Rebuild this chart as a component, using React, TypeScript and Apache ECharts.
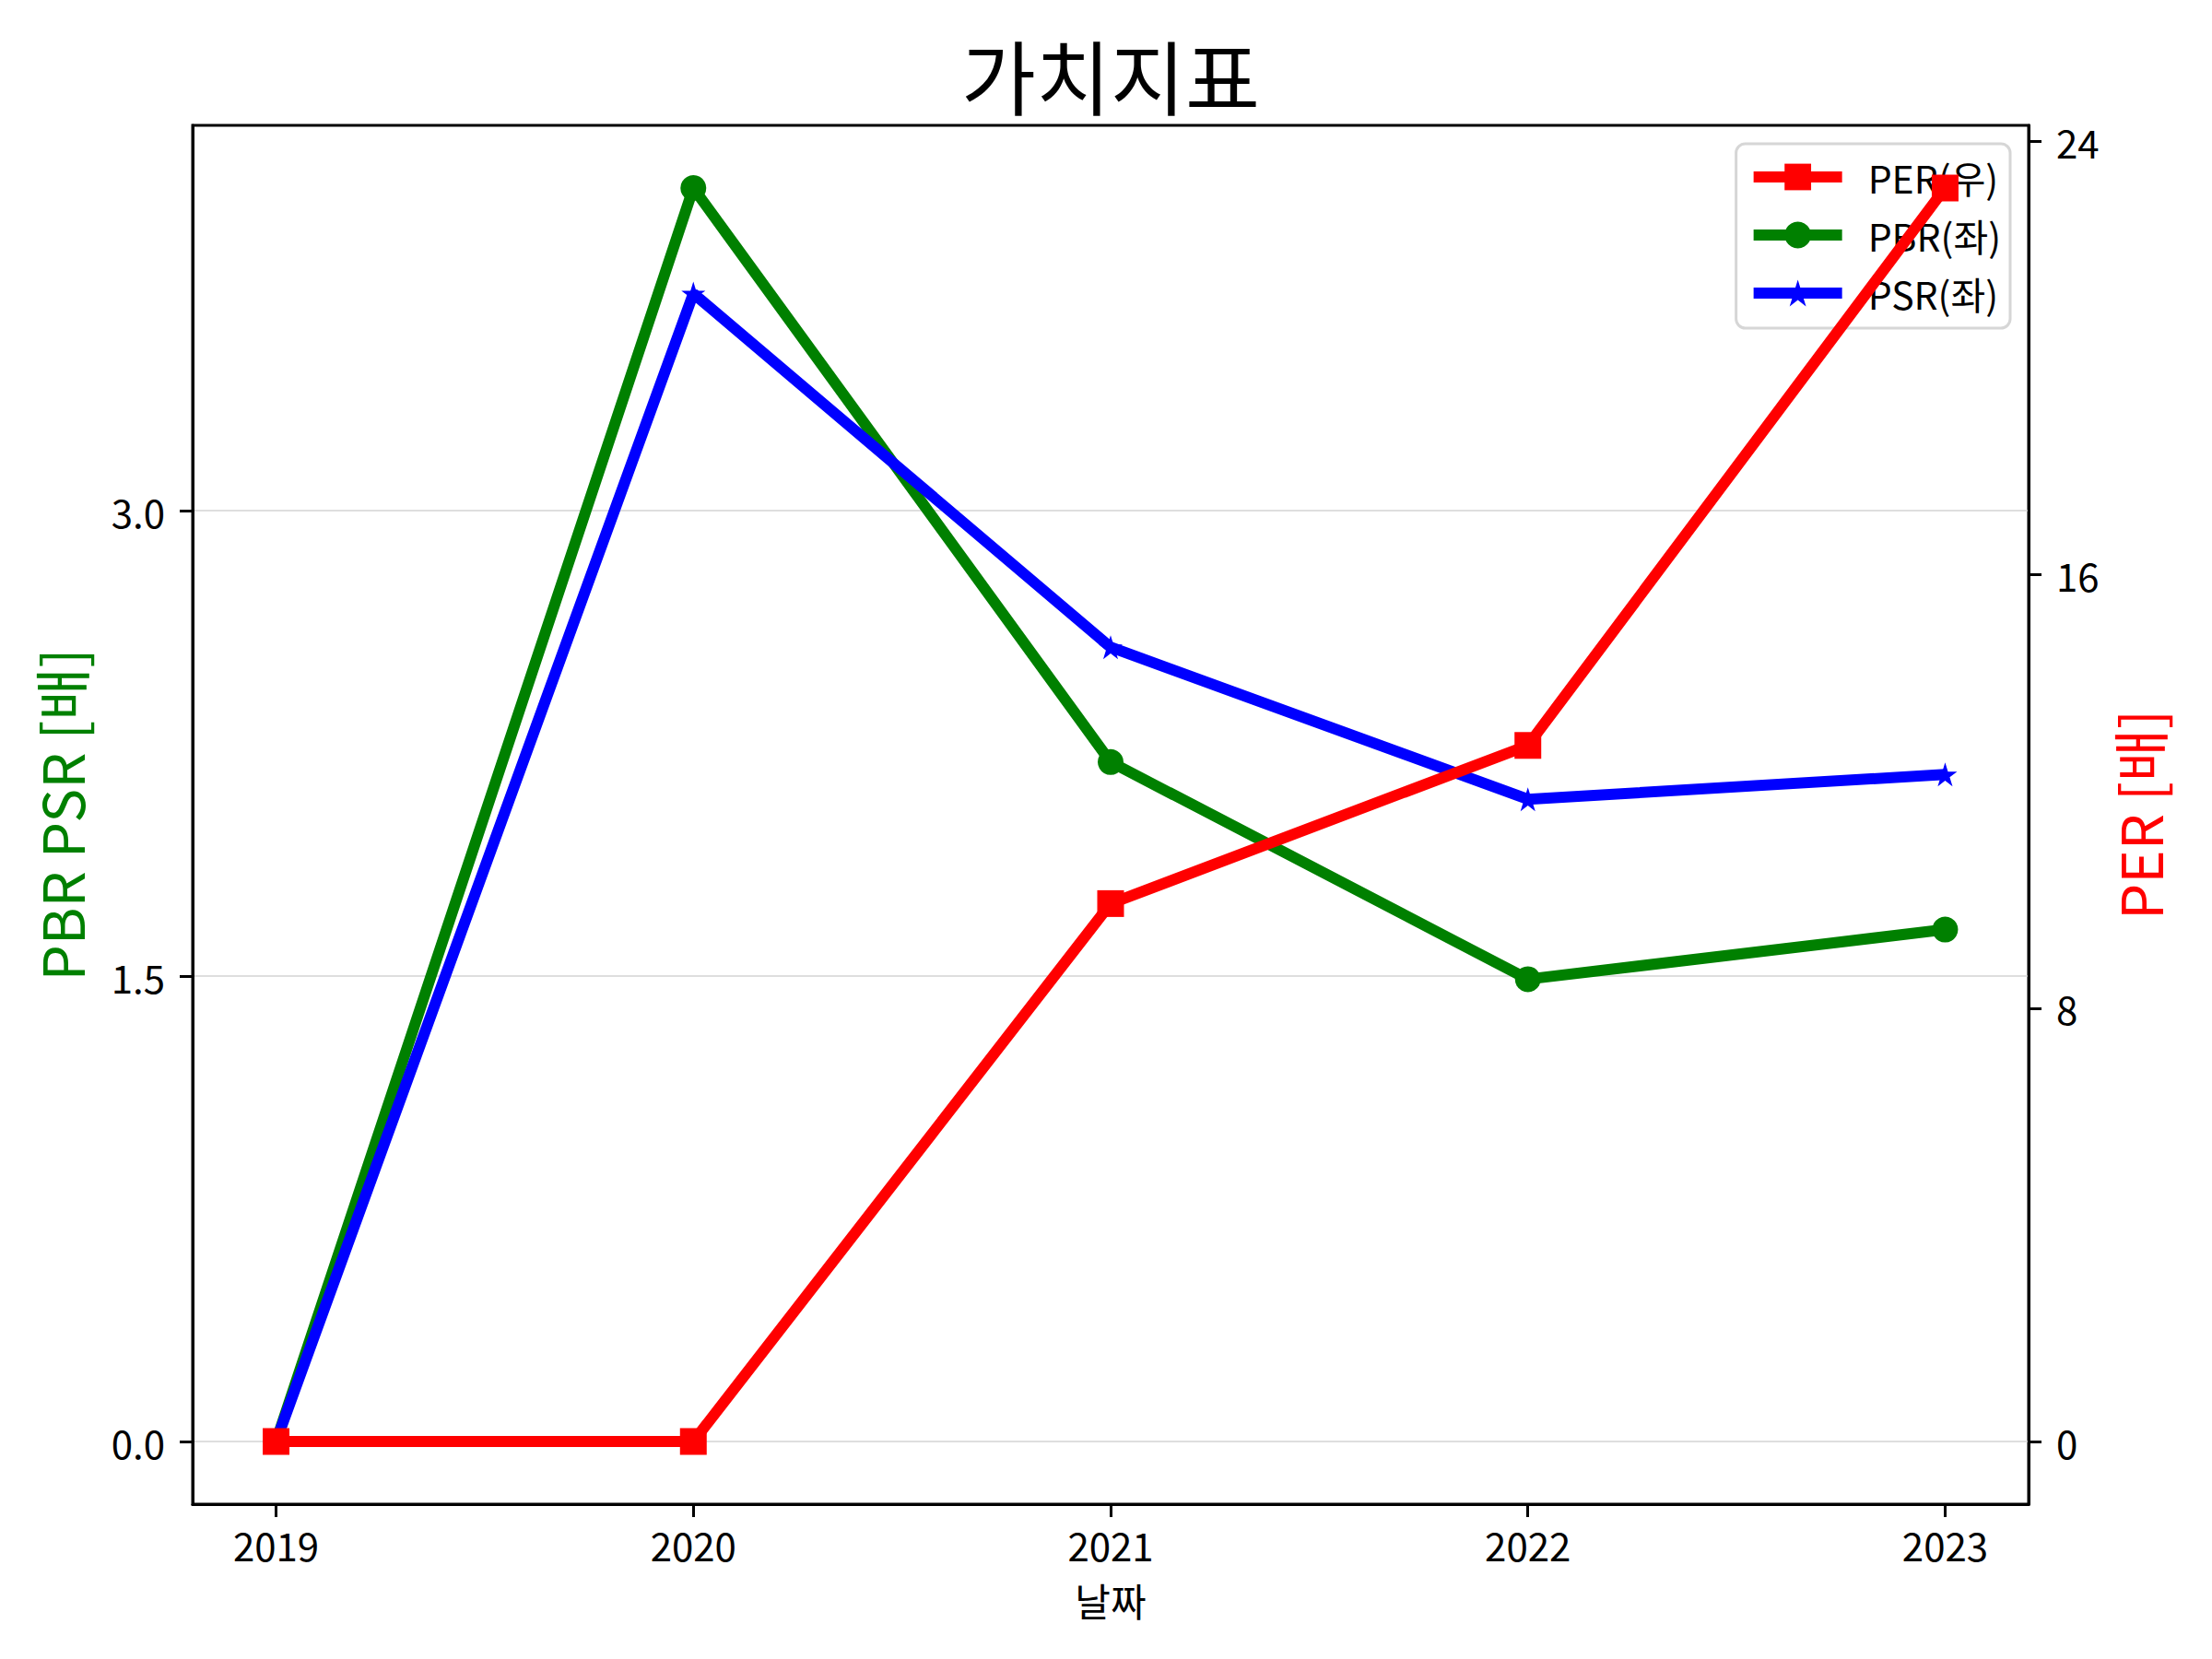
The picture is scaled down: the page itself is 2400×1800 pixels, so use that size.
import React, { useEffect, useRef } from "react";
import * as echarts from "echarts";

const years = [2019, 2020, 2021, 2022, 2023];
const perValues = [0, 0, 9.93, 12.85, 23.14];
const pbrValues = [0, 4.04, 2.19, 1.49, 1.65];
const psrValues = [0, 3.7, 2.56, 2.07, 2.15];
const leftTicks = [0, 1.5, 3.0];
const rightTicks = [0, 8, 16, 24];

const titleText = "가치지표";
const xName = "날짜";
const leftName = "PBR PSR [배]";
const rightName = "PER [배]";
const perName = "PER(우)";
const pbrName = "PBR(좌)";
const psrName = "PSR(좌)";

const FONT = "'Noto Sans CJK KR', 'Noto Sans', sans-serif";
const STAR =
  "path://M50 0 L61.23 34.55 L97.55 34.55 L68.17 55.9 L79.39 90.45 L50 69.1 L20.61 90.45 L31.83 55.9 L2.45 34.55 L38.77 34.55 Z";

function autoRange(values: number[]): [number, number] {
  const lo = Math.min(...values);
  const hi = Math.max(...values);
  const r = hi - lo;
  return [lo - 0.05 * r, hi + 0.05 * r];
}

export default function App() {
  const ref = useRef<HTMLDivElement>(null);
  useEffect(() => {
    document.body.style.margin = "0";
    if (!ref.current) return;
    const chart = echarts.init(ref.current, null, { renderer: "svg" });
    const [xMin, xMax] = autoRange(years);
    const [lMin, lMax] = autoRange([...pbrValues, ...psrValues]);
    const [rMin, rMax] = autoRange(perValues);
    const axisLine = { show: true, onZero: false, lineStyle: { color: "#000", width: 3 } };
    const axisTick = (vals: number[]) => ({
      show: true,
      inside: false,
      length: 14,
      customValues: vals,
      lineStyle: { color: "#000", width: 3 },
    });
    const toPairs = (vals: number[]) => years.map((y, i) => [y, vals[i]]);
    chart.setOption({
      animation: false,
      backgroundColor: "#fff",
      textStyle: { fontFamily: FONT },
      graphic: [
        {
          type: "text",
          x: 1205,
          y: 79,
          style: {
            text: titleText,
            fontSize: 88,
            fontFamily: FONT,
            fill: "#000",
            textAlign: "center",
            textVerticalAlign: "middle",
          },
        },
      ],
      grid: {
        left: 209,
        top: 136,
        right: 199,
        bottom: 168,
        show: true,
        borderColor: "#000",
        borderWidth: 3,
        backgroundColor: "transparent",
      },
      legend: {
        show: true,
        orient: "vertical",
        right: 219,
        top: 156,
        data: [perName, pbrName, psrName],
        itemWidth: 96,
        itemHeight: 36,
        itemGap: 15,
        padding: [12, 10, 14, 13],
        backgroundColor: "rgba(255,255,255,0.8)",
        borderColor: "#d6d6d6",
        borderWidth: 3,
        borderRadius: 10,
        lineStyle: { width: 12 },
        textStyle: {
          fontSize: 41,
          color: "#000",
          fontFamily: FONT,
          lineHeight: 48,
          padding: [0, 0, 0, 23],
        },
      },
      xAxis: {
        type: "value",
        min: xMin,
        max: xMax,
        name: xName,
        nameLocation: "middle",
        nameGap: 82,
        nameTextStyle: { fontSize: 42, color: "#000", fontFamily: FONT },
        axisLine,
        axisTick: axisTick(years),
        axisLabel: {
          customValues: years,
          formatter: (v: number) => String(v),
          fontSize: 42,
          color: "#000",
          margin: 22,
          fontFamily: FONT,
        },
        splitLine: { show: false },
      },
      yAxis: [
        {
          type: "value",
          position: "left",
          min: lMin,
          max: lMax,
          name: leftName,
          nameLocation: "middle",
          nameGap: 113,
          nameTextStyle: { fontSize: 62, color: "#008000", fontFamily: FONT },
          axisLine,
          axisTick: axisTick(leftTicks),
          axisLabel: {
            customValues: leftTicks,
            formatter: (v: number) => v.toFixed(1),
            fontSize: 42,
            color: "#000",
            margin: 30,
            fontFamily: FONT,
          },
          splitLine: { show: true, lineStyle: { color: "#d3d3d3", width: 1.5 } },
        },
        {
          type: "value",
          position: "right",
          min: rMin,
          max: rMax,
          name: rightName,
          nameLocation: "middle",
          nameGap: 86,
          nameTextStyle: { fontSize: 62, color: "#ff0000", fontFamily: FONT },
          axisLine,
          axisTick: axisTick(rightTicks),
          axisLabel: {
            customValues: rightTicks,
            formatter: (v: number) => String(v),
            fontSize: 42,
            color: "#000",
            margin: 30,
            fontFamily: FONT,
          },
          splitLine: { show: false },
        },
      ],
      series: [
        {
          name: pbrName,
          type: "line",
          yAxisIndex: 0,
          data: toPairs(pbrValues),
          symbol: "circle",
          symbolSize: 28,
          color: "#008000",
          itemStyle: { color: "#008000" },
          lineStyle: { color: "#008000", width: 12 },
          emphasis: { disabled: true },
          z: 2,
        },
        {
          name: psrName,
          type: "line",
          yAxisIndex: 0,
          data: toPairs(psrValues),
          symbol: STAR,
          symbolSize: 26,
          color: "#0000ff",
          itemStyle: { color: "#0000ff" },
          lineStyle: { color: "#0000ff", width: 12 },
          emphasis: { disabled: true },
          z: 3,
        },
        {
          name: perName,
          type: "line",
          yAxisIndex: 1,
          data: toPairs(perValues),
          symbol: "rect",
          symbolSize: 29,
          color: "#ff0000",
          itemStyle: { color: "#ff0000" },
          lineStyle: { color: "#ff0000", width: 12 },
          emphasis: { disabled: true },
          z: 6,
        },
      ],
    });
    return () => chart.dispose();
  }, []);
  return <div ref={ref} style={{ width: 2400, height: 1800 }} />;
}
